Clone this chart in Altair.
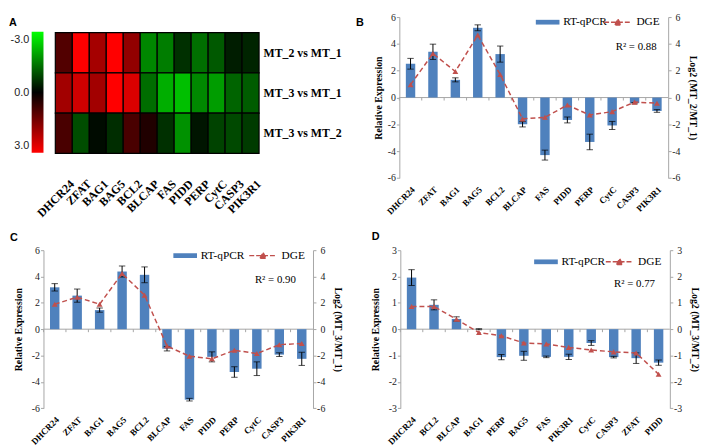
import altair as alt
import pandas as pd

# ---------------- data ----------------
genes = ["DHCR24", "ZFAT", "BAG1", "BAG5", "BCL2", "BLCAP", "FAS", "PIDD", "PERP", "CytC", "CASP3", "PIK3R1"]

# Panel B : MT_2 vs MT_1
b_qpcr = [2.52, 3.41, 1.32, 5.20, 3.24, -1.99, -4.29, -1.67, -3.31, -2.08, -0.42, -1.00]
b_err = [0.40, 0.57, 0.15, 0.22, 0.60, 0.20, 0.37, 0.22, 0.58, 0.30, 0.05, 0.10]
b_dge = [0.96, 3.28, 1.94, 4.66, 1.72, -1.59, -1.47, -0.56, -1.30, -1.05, -0.34, -0.42]

# Panel C : MT_3 vs MT_1
c_qpcr = [3.18, 2.55, 1.45, 4.38, 4.13, -1.48, -5.35, -2.10, -3.25, -3.00, -1.93, -2.25]
c_err = [0.28, 0.50, 0.16, 0.42, 0.60, 0.17, 0.10, 0.38, 0.40, 0.52, 0.14, 0.50]
c_dge = [1.90, 2.43, 1.90, 4.23, 2.58, -1.28, -2.05, -2.25, -1.60, -1.85, -1.18, -1.08]

# Panel D : MT_3 vs MT_2
d_genes = ["DHCR24", "BCL2", "BLCAP", "BAG1", "PERP", "BAG5", "FAS", "PIK3R1", "CytC", "CASP3", "ZFAT", "PIDD"]
d_qpcr = [1.96, 0.925, 0.39, 0.0, -1.06, -1.01, -1.05, -1.05, -0.525, -1.06, -1.10, -1.27]
d_err = [0.30, 0.19, 0.08, 0.02, 0.10, 0.17, 0.03, 0.10, 0.09, 0.03, 0.20, 0.10]
d_dge = [0.86, 0.86, 0.375, -0.125, -0.25, -0.525, -0.56, -0.69, -0.79, -0.86, -0.90, -1.71]

r2_labels = ["R² = 0.88", "R² = 0.90", "R² = 0.77"]
heat_rows = ["MT_2 vs MT_1", "MT_3 vs MT_1", "MT_3 vs MT_2"]
colorbar_ticks = [-3, 0, 3]
colorbar_span = [-3, 3]
zero_line = [0]

# ---------------- style ----------------
SERIF = "Liberation Serif"
SANS = "Liberation Sans"
BLUE = "#4f81bd"
RED = "#c0504d"
GRAY = "#a6a6a6"
LABEL = "#222222"


def letter_title(text, dx, dy):
    return alt.Title(text, anchor="start", frame="group", dx=dx, dy=dy, offset=0,
                     font=SANS, fontSize=11, fontWeight="bold", color="#000", baseline="top")


def spacer(w, h=20):
    return alt.Chart(pd.DataFrame({"v": zero_line})).mark_point(opacity=0, size=0).encode(
        x=alt.X("v:Q", axis=None), y=alt.Y("v:Q", axis=None)).properties(width=w, height=h)


# ---------------- panel A ----------------
d_map = dict(zip(d_genes, d_dge))
heat_vals = [b_dge, c_dge, [d_map[g] for g in genes]]
hdf = pd.DataFrame([{"row": r, "gene": g, "val": v}
                    for r, vals in zip(heat_rows, heat_vals) for g, v in zip(genes, vals)])

ROW1_H = 163.3

heat = alt.Chart(hdf).mark_rect(stroke="#000", strokeWidth=1.2).encode(
    x=alt.X("gene:N", sort=genes, title=None,
            scale=alt.Scale(domain=genes, paddingInner=0, paddingOuter=0),
            axis=alt.Axis(labelAngle=-45, labelAlign="right", labelBaseline="top",
                          labelFont=SERIF, labelFontWeight="bold", labelFontSize=12,
                          labelColor="#000", domain=False, ticks=False, labelPadding=0,
                          labelOffset=5)),
    y=alt.Y("row:N", sort=heat_rows, title=None,
            scale=alt.Scale(domain=heat_rows, paddingInner=0, paddingOuter=0.498, align=0.386),
            axis=alt.Axis(orient="right", labelFont=SERIF, labelFontWeight="bold", labelFontSize=12,
                          labelColor="#000", domain=False, ticks=False, labelPadding=4)),
    color=alt.Color("val:Q", legend=None,
                    scale=alt.Scale(domain=[-3, 0, 3], range=["#00ff00", "#000000", "#ff0000"],
                                    clamp=True, interpolate="rgb")),
).properties(width=206.7, height=ROW1_H)

cbdf = pd.DataFrame({"lo": [colorbar_span[0]], "hi": [colorbar_span[1]]})
grad = alt.Gradient(gradient="linear",
                    stops=[alt.GradientStop(color="#00ff00", offset=0),
                           alt.GradientStop(color="#000000", offset=0.5),
                           alt.GradientStop(color="#ff0000", offset=1)],
                    x1=0, x2=0, y1=0, y2=1)
colorbar = alt.Chart(cbdf).mark_rect(fill=grad).encode(
    y=alt.Y("lo:Q", title=None,
            scale=alt.Scale(domain=[-3.733, 4.252], reverse=True, nice=False, zero=False),
            axis=alt.Axis(values=colorbar_ticks, grid=False, domain=False, ticks=False,
                          labelExpr="replace(format(datum.value, '.1f'), '\u2212', '-')",
                          labelFont=SANS, labelFontSize=11, labelColor=LABEL, labelPadding=3,
                          labelOffset={"condition": [{"test": "datum.value < 0", "value": 8},
                                                     {"test": "datum.value > 0", "value": -7}],
                                       "value": 0})),
    y2="hi:Q",
).properties(width=12, height=ROW1_H, title=letter_title("A", -23, 11))


# ---------------- bar panels ----------------
def panel(order, qpcr, err, dge, ymax, ystep, width, height, right_title, r2_text, r2_y, r2_dx,
          letter, letter_dx, letter_dy, leg1, leg2, tpad_left):
    df = pd.DataFrame({"gene": order, "qpcr": qpcr, "err": err, "dge": dge})
    df["lo"] = df["qpcr"] - df["err"]
    df["hi"] = df["qpcr"] + df["err"]
    df["s1"] = "RT-qPCR"
    df["s2"] = "DGE"
    # small category-boundary ticks hanging under the zero line (3 px long)
    df["tick_end"] = -3.0 * (2 * ymax) / height
    ticks = list(range(-ymax, ymax + 1, ystep))
    xs = alt.Scale(domain=order, paddingInner=0, paddingOuter=0)
    x_axis = alt.Axis(labelAngle=-45, labelAlign="right", labelBaseline="top",
                      labelFont=SERIF, labelFontWeight="bold", labelFontSize=9,
                      labelColor="#000", domain=False, ticks=False, labelPadding=7)

    def xenc(bp=0.5):
        return alt.X("gene:N", scale=xs, sort=order, bandPosition=bp, title=None, axis=x_axis)

    def ys():
        return alt.Scale(domain=[-ymax, ymax], nice=False, zero=False)

    base = alt.Chart(df)

    zero = alt.Chart(pd.DataFrame({"z": zero_line})).mark_rule(color=GRAY, strokeWidth=1).encode(
        y=alt.Y("z:Q", scale=ys(), axis=None))
    bticks = base.mark_rule(color=GRAY, strokeWidth=1).encode(
        x=xenc(0), y=alt.Y("tick_end:Q", scale=ys(), axis=None), y2=alt.Y2(datum=0))

    bars = base.mark_bar(width=alt.RelativeBandSize(0.42)).encode(
        x=alt.X("gene:N", scale=xs, sort=order, title=None, axis=x_axis),
        y=alt.Y("qpcr:Q", scale=ys(), title="Relative Expression",
                axis=alt.Axis(orient="left", values=ticks, labelExpr="datum.value + ''", grid=False,
                              domainColor=GRAY, tickColor=GRAY, tickSize=3, labelPadding=1,
                              labelFont=SERIF, labelFontSize=10, labelColor=LABEL,
                              titleFont=SERIF, titleFontSize=10, titleFontWeight="bold",
                              titleColor="#000", titlePadding=tpad_left)),
        fill=alt.Fill("s1:N", scale=alt.Scale(range=[BLUE]),
                      legend=alt.Legend(orient="none", legendX=leg1[0] + 8, legendY=leg1[1] - 3.25,
                                        title=None, direction="horizontal", padding=0,
                                        symbolType="M-3,-0.6L3,-0.6L3,0.6L-3,0.6Z", symbolSize=64,
                                        symbolStrokeWidth=0, labelFont=SERIF, labelFontSize=11.5,
                                        labelColor="#000", labelOffset=10)),
    )
    rule = base.mark_rule(color="#000", strokeWidth=1).encode(
        x=xenc(), y=alt.Y("lo:Q", scale=ys(), axis=None), y2="hi:Q")
    cap_lo = base.mark_tick(color="#000", size=6.5, thickness=1).encode(
        x=xenc(), y=alt.Y("lo:Q", scale=ys(), axis=None))
    cap_hi = base.mark_tick(color="#000", size=6.5, thickness=1).encode(
        x=xenc(), y=alt.Y("hi:Q", scale=ys(), axis=None))
    r2 = alt.Chart(pd.DataFrame({"t": [r2_text], "gene": [order[-1]]})).mark_text(
        align="right", baseline="middle", dx=r2_dx, font=SERIF, fontSize=11, color="#000").encode(
        x=xenc(1),
        y=alt.Y(datum=r2_y, scale=ys(), axis=None),
        text="t:N")

    line = base.mark_line(strokeDash=[5, 3], strokeWidth=1.5).encode(
        x=xenc(),
        y=alt.Y("dge:Q", scale=ys(), title=right_title,
                axis=alt.Axis(orient="right", values=ticks, labelExpr="datum.value + ''", grid=False,
                              domainColor=GRAY, tickColor=GRAY, tickSize=3, labelPadding=9,
                              labelAlign="right",
                              labelFont=SERIF, labelFontSize=10, labelColor=LABEL,
                              titleFont=SERIF, titleFontSize=10, titleFontWeight="bold",
                              titleColor="#000", titlePadding=8)),
        color=alt.Color("s2:N", scale=alt.Scale(range=[RED]),
                        legend=alt.Legend(orient="none", legendX=leg2[0] + 10, legendY=leg2[1] - 3.25,
                                          title=None, direction="horizontal", padding=0,
                                          symbolType="M-3.5,0L3.5,0M-0.75,0.7L0,-0.8L0.75,0.7Z",
                                          symbolSize=64, symbolStrokeWidth=1.5, symbolDash=[5, 2],
                                          symbolFillColor=RED, symbolStrokeColor=RED,
                                          labelFont=SERIF, labelFontSize=11.5, labelColor="#000",
                                          labelOffset=13)),
    )
    points = base.mark_point(shape="triangle-up", filled=True, size=35, color=RED, opacity=1).encode(
        x=xenc(), y=alt.Y("dge:Q", scale=ys(), axis=None))

    return alt.layer(zero, bticks, bars, rule, cap_lo, cap_hi, r2, line, points).resolve_scale(
        y="independent").properties(width=width, height=height,
                                    title=letter_title(letter, letter_dx, letter_dy))


# legend tuples: (left edge of swatch, vertical centre) relative to the plot area
chart_b = panel(genes, b_qpcr, b_err, b_dge, 6, 2, 272.7, 163.3, "Log2 (MT_2/MT_1)", r2_labels[0],
                3.73, -11.7, "B", -44, 16, (136.7, 2.7), (206, 2.7), 4)
chart_c = panel(genes, c_qpcr, c_err, c_dge, 6, 2, 273.4, 160.3, "Log2 (MT_3/MT_1)", r2_labels[1],
                3.73, -17.4, "C", -34, -2.5, (130, 3), (207, 3), 8)
chart_d = panel(d_genes, d_qpcr, d_err, d_dge, 3, 1, 273.4, 160.3, "Log2 (MT_3/MT_2)", r2_labels[2],
                1.72, -15, "D", -29, -3.5, (134, 9.3), (206.7, 9.3), 8)


def indep(ch):
    return ch.resolve_scale(color="independent", fill="independent").resolve_legend(
        color="independent", fill="independent")


row1 = indep(alt.hconcat(colorbar, spacer(12), heat, spacer(141.3), chart_b,
                         spacing=0, bounds="flush"))
row2 = indep(alt.hconcat(spacer(11.3), chart_c, spacer(87.6), chart_d,
                         spacing=0, bounds="flush"))

chart = indep(alt.vconcat(row1, row2, spacing=10.5)).properties(
    padding=0, background="white").configure_view(stroke="transparent")

chart.save("out.html", embed_options={"renderer": "svg", "actions": False})
